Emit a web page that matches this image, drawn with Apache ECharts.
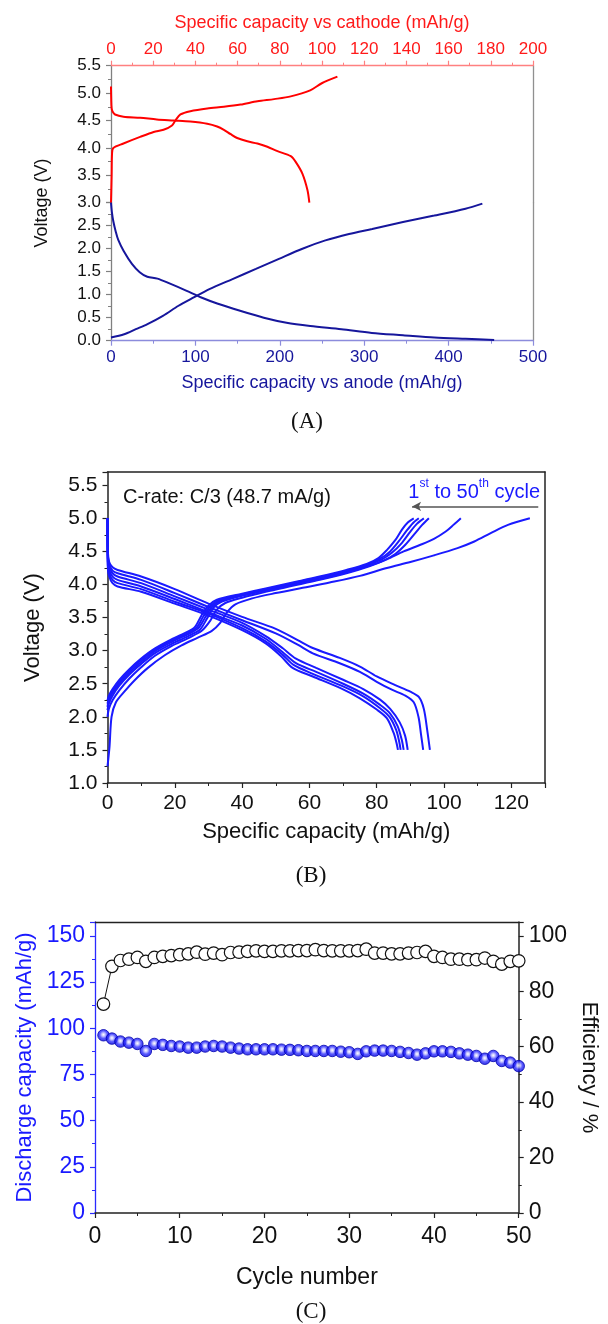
<!DOCTYPE html>
<html>
<head>
<meta charset="utf-8">
<script src="https://cdn.jsdelivr.net/npm/echarts@6/dist/echarts.min.js"></script>
<style>
  html, body { margin: 0; padding: 0; background: #fff; }
  #chart { width: 608px; height: 1324px; }
</style>
</head>
<body>
<div id="chart"></div>
<script>
// ---- (A) half cells: cathode (top axis) and anode (bottom axis) ----
var cathodeCharge = [[0,3.0],[0.3,3.5],[0.5,3.9],[1.1,4.0],[5.9,4.08],[13.8,4.2],[20.2,4.29],[24.9,4.33],[28.9,4.41],[30.5,4.5],[32.9,4.61],[37.6,4.67],[45.6,4.72],[53.5,4.75],[61.4,4.79],[69.4,4.85],[77.3,4.89],[85.2,4.94],[94.4,5.05],[99.9,5.18],[107.3,5.3]];
var cathodeDischarge = [[0,5.12],[0.1,4.9],[0.3,4.72],[0.8,4.66],[1.9,4.61],[5.9,4.57],[13.8,4.55],[21.7,4.52],[29.7,4.5],[37.6,4.48],[45.6,4.44],[50.3,4.39],[53.5,4.33],[56.7,4.25],[59.8,4.18],[64.6,4.12],[69.4,4.08],[74.1,4.02],[78.9,3.94],[85.2,3.85],[87.6,3.74],[90.7,3.53],[93.1,3.23],[94.0,3.0]];
var anodeDischarge = [[0,3.0],[1,2.8],[2.8,2.59],[5.5,2.38],[8.6,2.19],[15,1.95],[24.8,1.67],[34,1.49],[43,1.39],[55,1.35],[70,1.24],[89,1.09],[107,0.94],[125.8,0.81],[153,0.65],[181,0.5],[208,0.39],[236,0.32],[273,0.25],[309,0.17],[346,0.12],[383,0.07],[420,0.04],[454,0.015]];
var anodeCharge = [[0,0.07],[15.6,0.14],[29.4,0.25],[43.2,0.36],[61.5,0.54],[80,0.76],[98,0.94],[116.6,1.12],[144,1.34],[171.7,1.56],[199,1.78],[226.8,2.0],[254,2.18],[282,2.32],[309.5,2.43],[346,2.58],[383,2.72],[420,2.87],[440,2.98]];

// ---- (B) charge / discharge profiles, 1st to 50th cycle ----
var charge1 = [[0,1.25],[0.6,1.55],[1.2,2.0],[2.5,2.22],[5,2.38],[8,2.55],[12,2.74],[17,2.93],[22,3.08],[27,3.2],[31,3.3],[33.5,3.42],[35.5,3.58],[38,3.7],[43,3.79],[50,3.87],[58,3.95],[66,4.03],[75,4.13],[83,4.25],[90,4.34],[97,4.44],[104,4.55],[109,4.65],[114,4.78],[119,4.9],[125.5,5.0]];
var charge2 = [[0,2.0],[0.4,2.12],[1.5,2.25],[3.5,2.4],[6.5,2.58],[10,2.75],[14,2.92],[19,3.07],[24,3.19],[28,3.3],[30.5,3.45],[32.5,3.62],[35,3.72],[40,3.8],[47,3.89],[55,3.98],[63,4.07],[71,4.17],[78,4.28],[83,4.38],[88,4.5],[93,4.6],[97,4.69],[100.5,4.8],[103,4.91],[105,5.0]];
var charge3 = [[0,2.1],[0.4,2.2],[1.5,2.32],[3.5,2.47],[6.5,2.64],[10,2.8],[14,2.96],[19,3.1],[24,3.22],[27.5,3.32],[29.5,3.48],[31.5,3.65],[34,3.74],[40,3.83],[47,3.91],[55,4.0],[63,4.08],[71,4.18],[77,4.27],[82,4.36],[85.5,4.46],[88.5,4.6],[91.5,4.78],[93.5,4.9],[95.5,5.0]];
var charge4 = [[0,2.15],[0.4,2.25],[1.5,2.36],[3.5,2.5],[6.5,2.67],[10,2.83],[14,2.99],[19,3.13],[24,3.25],[27,3.34],[29,3.5],[31,3.66],[33.5,3.75],[40,3.84],[47,3.92],[55,4.01],[63,4.1],[71,4.2],[77,4.29],[81.5,4.38],[84.5,4.48],[87.5,4.63],[90,4.8],[92,4.92],[94,5.0]];
var charge5 = [[0,2.2],[0.4,2.28],[1.5,2.39],[3.5,2.53],[6.5,2.7],[10,2.86],[14,3.01],[19,3.15],[24,3.27],[26.5,3.35],[28.5,3.52],[30.5,3.67],[33,3.76],[40,3.85],[47,3.93],[55,4.02],[63,4.11],[71,4.21],[77,4.3],[81,4.39],[84,4.5],[86.5,4.65],[89,4.82],[90.8,4.93],[92.5,5.0]];
var charge6 = [[0,2.25],[0.4,2.32],[1.5,2.42],[3.5,2.56],[6.5,2.72],[10,2.88],[14,3.03],[19,3.17],[24,3.29],[26,3.36],[28,3.54],[30,3.68],[32.5,3.77],[40,3.86],[47,3.94],[55,4.03],[63,4.12],[71,4.22],[77,4.31],[80.5,4.4],[83,4.52],[85.5,4.67],[87.5,4.83],[89.3,4.94],[91,5.0]];
var discharge1 = [[0,5.0],[0.1,4.5],[0.5,4.34],[1.5,4.26],[3,4.22],[10,4.12],[20,3.93],[30,3.71],[40,3.51],[50,3.33],[56.5,3.16],[61,3.04],[69,2.89],[75,2.76],[80,2.61],[85.5,2.48],[90,2.38],[92.5,2.3],[94,2.12],[95,1.8],[95.8,1.5]];
var discharge2 = [[0,5.0],[0.1,4.45],[0.5,4.3],[1.5,4.21],[3,4.17],[10,4.07],[20,3.87],[30,3.66],[40,3.46],[50,3.26],[56.5,3.09],[61,2.96],[69,2.81],[75,2.68],[80,2.53],[84.5,2.41],[88.5,2.32],[91,2.22],[92.4,2.0],[93.2,1.72],[93.8,1.5]];
var discharge3 = [[0,5.0],[0.1,4.4],[0.5,4.27],[1.5,4.17],[3,4.12],[10,4.02],[20,3.82],[30,3.62],[40,3.42],[47,3.22],[52,3.04],[56,2.88],[62,2.74],[70,2.56],[76,2.42],[81,2.26],[84,2.12],[86.8,1.92],[88.4,1.72],[89.2,1.5]];
var discharge4 = [[0,5.0],[0.1,4.35],[0.5,4.22],[1.5,4.12],[3,4.07],[10,3.97],[20,3.78],[30,3.58],[40,3.38],[47,3.18],[52,2.98],[56,2.81],[62,2.68],[70,2.5],[76,2.35],[81,2.18],[84,2.05],[86.2,1.86],[87.4,1.66],[88,1.5]];
var discharge5 = [[0,5.0],[0.1,4.3],[0.5,4.17],[1.5,4.07],[3,4.02],[10,3.93],[20,3.74],[30,3.56],[40,3.34],[47,3.14],[52,2.94],[55.4,2.78],[61,2.65],[70,2.46],[76,2.31],[81,2.13],[83.8,2.0],[85.8,1.8],[86.7,1.62],[87.1,1.5]];
var discharge6 = [[0,5.0],[0.1,4.25],[0.5,4.12],[1.5,4.02],[3,3.97],[10,3.89],[20,3.71],[30,3.53],[40,3.31],[47,3.11],[51.5,2.92],[55,2.74],[61,2.61],[69.4,2.43],[75,2.28],[80,2.11],[83,1.98],[85,1.76],[85.9,1.6],[86.3,1.5]];

// ---- (C) cycling ----
var cycles = [1,2,3,4,5,6,7,8,9,10,11,12,13,14,15,16,17,18,19,20,21,22,23,24,25,26,27,28,29,30,31,32,33,34,35,36,37,38,39,40,41,42,43,44,45,46,47,48,49,50];
var dischargeCapacity = [96.2,94.4,92.8,92.2,91.5,87.7,91.5,91.0,90.4,90.1,89.5,89.5,90.1,90.4,90.1,89.5,89.0,88.6,88.6,88.6,88.6,88.4,88.3,88.1,87.7,87.7,87.7,87.7,87.3,87.0,86.1,87.5,87.9,87.9,87.7,87.2,86.6,85.7,86.4,87.5,87.5,87.2,86.4,85.7,85.0,83.5,85.0,82.3,81.4,79.5];
var efficiency = [75.4,89.0,91.1,91.6,92.2,90.8,92.2,92.6,92.9,93.2,93.5,94.1,93.4,93.8,93.2,94.0,94.1,94.4,94.6,94.4,94.4,94.6,94.6,94.7,94.7,95.0,94.7,94.6,94.6,94.6,94.7,95.2,93.8,93.8,93.5,93.5,93.8,94.0,94.4,92.6,92.2,91.6,91.6,91.4,91.4,92.0,90.8,89.8,90.8,91.0];

var FONT = '"Liberation Sans", Arial, sans-serif';
var SERIF = '"Liberation Serif", "Times New Roman", serif';
var RED = '#ff1a1a', NAVY = '#16169c', BLUE = '#1a1aff';

function ax(o) {
  var lc = o.lineColor || '#222';
  var a = {
    type: 'value', gridIndex: o.grid, position: o.pos,
    min: o.min, max: o.max, interval: o.interval,
    splitLine: { show: false },
    axisLine: { show: true, onZero: false, lineStyle: { color: lc, width: o.lineWidth || 1.3 } },
    axisTick: { show: !o.frame, length: 5, lineStyle: { color: lc, width: 1.2 } },
    minorTick: { show: !o.frame, splitNumber: 2, length: 3, lineStyle: { color: lc, width: 1 } },
    axisLabel: {
      show: !o.frame, color: o.color || '#111', fontSize: o.fs, fontFamily: FONT, margin: o.margin,
      formatter: o.fmt, showMinLabel: o.showMin !== false, showMaxLabel: true
    }
  };
  if (o.name) {
    a.name = o.name; a.nameLocation = 'middle'; a.nameGap = o.nameGap;
    a.nameRotate = o.nameRotate;
    a.nameTextStyle = { color: o.nameColor || o.color || '#111', fontSize: o.nameSize, fontFamily: FONT };
  }
  return a;
}
// only label the ticks that sit on the step (hides the odd axis max)
function hideOff(step, dec) {
  return function (v) {
    var r = v / step;
    if (Math.abs(r - Math.round(r)) > 1e-6) return '';
    return dec ? v.toFixed(dec) : String(v);
  };
}

function line(data, xi, yi, color, w) {
  return { type: 'line', data: data, xAxisIndex: xi, yAxisIndex: yi, showSymbol: false, symbol: 'none',
    smooth: 0.3, lineStyle: { color: color, width: w }, silent: true, animation: false };
}

var bCharge = [charge1, charge2, charge3, charge4, charge5, charge6];
var bDischarge = [discharge1, discharge2, discharge3, discharge4, discharge5, discharge6];

var series = [
  line(cathodeCharge, 0, 0, '#ff0000', 2),
  line(cathodeDischarge, 0, 0, '#ff0000', 2),
  line(anodeDischarge, 1, 2, NAVY, 2),
  line(anodeCharge, 1, 2, NAVY, 2)
];
bCharge.concat(bDischarge).forEach(function (d) { series.push(line(d, 2, 4, BLUE, 2)); });
series[4].markLine = {
  silent: true, symbol: ['none', 'arrow'], symbolSize: [7, 9], animation: false,
  label: { show: false },
  lineStyle: { color: '#555', width: 1.5, type: 'solid' },
  data: [[{ coord: [128, 5.18] }, { coord: [90.5, 5.18] }]]
};
series.push({
  type: 'line', data: cycles.map(function (c, i) { return [c, efficiency[i]]; }),
  xAxisIndex: 4, yAxisIndex: 7, symbol: 'circle', symbolSize: 12.5, showSymbol: true,
  lineStyle: { color: '#111', width: 1 },
  itemStyle: { color: '#fff', borderColor: '#111', borderWidth: 1.2 }, animation: false
});
series.push({
  type: 'scatter', data: cycles.map(function (c, i) { return [c, dischargeCapacity[i]]; }),
  xAxisIndex: 4, yAxisIndex: 6, symbol: 'circle', symbolSize: 11.5,
  itemStyle: {
    color: new echarts.graphic.RadialGradient(0.5, 0.45, 0.55, [
      { offset: 0, color: '#ffffff' }, { offset: 0.25, color: '#b4b4ff' },
      { offset: 0.55, color: '#3030ff' }, { offset: 1, color: '#0000d8' }
    ]),
    borderColor: '#0000b0', borderWidth: 1
  }, animation: false
});

var option = {
  animation: false,
  textStyle: { fontFamily: FONT },
  grid: [
    { left: 111, top: 65.7, width: 422, height: 137 },
    { left: 111, top: 202.7, width: 422, height: 138 },
    { left: 107.5, top: 472, width: 437.5, height: 311 },
    { left: 95, top: 922, width: 441, height: 291 }
  ],
  xAxis: [
    ax({ grid: 0, pos: 'top', min: 0, max: 200, interval: 20, color: RED, lineColor: '#ff8080', fs: 17, margin: 8,
         name: 'Specific capacity vs cathode (mAh/g)', nameGap: 34, nameSize: 18 }),
    ax({ grid: 1, pos: 'bottom', min: 0, max: 500, interval: 100, color: NAVY, lineColor: '#8c8cdc', fs: 17, margin: 8,
         name: 'Specific capacity vs anode (mAh/g)', nameGap: 33, nameSize: 18 }),
    ax({ grid: 2, pos: 'bottom', min: 0, max: 130, interval: 20, fs: 21, margin: 10, lineWidth: 1.5,
         fmt: hideOff(20), name: 'Specific capacity (mAh/g)', nameGap: 38, nameSize: 22 }),
    ax({ grid: 2, pos: 'top', min: 0, max: 130, frame: true, lineWidth: 1.5 }),
    ax({ grid: 3, pos: 'bottom', min: 0, max: 50, interval: 10, fs: 23, margin: 12, lineWidth: 1.5,
         name: 'Cycle number', nameGap: 53, nameSize: 23 }),
    ax({ grid: 3, pos: 'top', min: 0, max: 50, frame: true, lineWidth: 1.3 })
  ],
  yAxis: [
    ax({ grid: 0, pos: 'left', min: 3.0, max: 5.5, interval: 0.5, lineColor: '#808080', fs: 17, margin: 10,
         fmt: function (v) { return v.toFixed(1); }, showMin: false }),
    ax({ grid: 0, pos: 'right', min: 3.0, max: 5.5, frame: true, lineColor: '#909090' }),
    ax({ grid: 1, pos: 'left', min: 0, max: 3.0, interval: 0.5, lineColor: '#808080', fs: 17, margin: 10,
         fmt: function (v) { return v.toFixed(1); } }),
    ax({ grid: 1, pos: 'right', min: 0, max: 3.0, frame: true, lineColor: '#909090' }),
    ax({ grid: 2, pos: 'left', min: 1.0, max: 5.7, interval: 0.5, fs: 21, margin: 10, lineWidth: 1.5,
         fmt: hideOff(0.5, 1), name: 'Voltage (V)', nameGap: 64, nameSize: 22 }),
    ax({ grid: 2, pos: 'right', min: 1.0, max: 5.7, frame: true, lineWidth: 1.5 }),
    ax({ grid: 3, pos: 'left', min: 0, max: 157.5, interval: 25, color: BLUE, lineColor: '#2a2aff', fs: 23, margin: 10,
         fmt: hideOff(25), name: 'Discharge capacity (mAh/g)', nameGap: 58, nameSize: 22 }),
    ax({ grid: 3, pos: 'right', min: 0, max: 105, interval: 20, fs: 23, margin: 10, lineWidth: 1.5,
         fmt: hideOff(20), name: 'Efficiency / %', nameGap: 57, nameSize: 22, nameRotate: -90 })
  ],
  graphic: [
    { type: 'text', x: 42, y: 203, rotation: Math.PI / 2,
      style: { text: 'Voltage (V)', fontSize: 18, fontFamily: FONT, fill: '#111', align: 'center', verticalAlign: 'middle' } },
    { type: 'text', x: 307, y: 422,
      style: { text: '(A)', fontSize: 23, fontFamily: SERIF, fill: '#111', align: 'center', verticalAlign: 'middle' } },
    { type: 'text', x: 311, y: 876,
      style: { text: '(B)', fontSize: 23, fontFamily: SERIF, fill: '#111', align: 'center', verticalAlign: 'middle' } },
    { type: 'text', x: 311, y: 1312,
      style: { text: '(C)', fontSize: 23, fontFamily: SERIF, fill: '#111', align: 'center', verticalAlign: 'middle' } },
    { type: 'text', x: 123, y: 497,
      style: { text: 'C-rate: C/3 (48.7 mA/g)', fontSize: 20, fontFamily: FONT, fill: '#111', align: 'left', verticalAlign: 'middle' } },
    { type: 'text', x: 540, y: 490,
      style: { text: '{a|1}{s|st}{a| to 50}{s|th}{a| cycle}', align: 'right', verticalAlign: 'middle',
        rich: {
          a: { fontSize: 20, fontFamily: FONT, fill: BLUE, verticalAlign: 'bottom', lineHeight: 24 },
          s: { fontSize: 12, fontFamily: FONT, fill: BLUE, verticalAlign: 'top', lineHeight: 24 }
        } } }
  ],
  series: series
};

var chart = echarts.init(document.getElementById('chart'), null, { renderer: 'canvas' });
chart.setOption(option);
</script>
</body>
</html>
